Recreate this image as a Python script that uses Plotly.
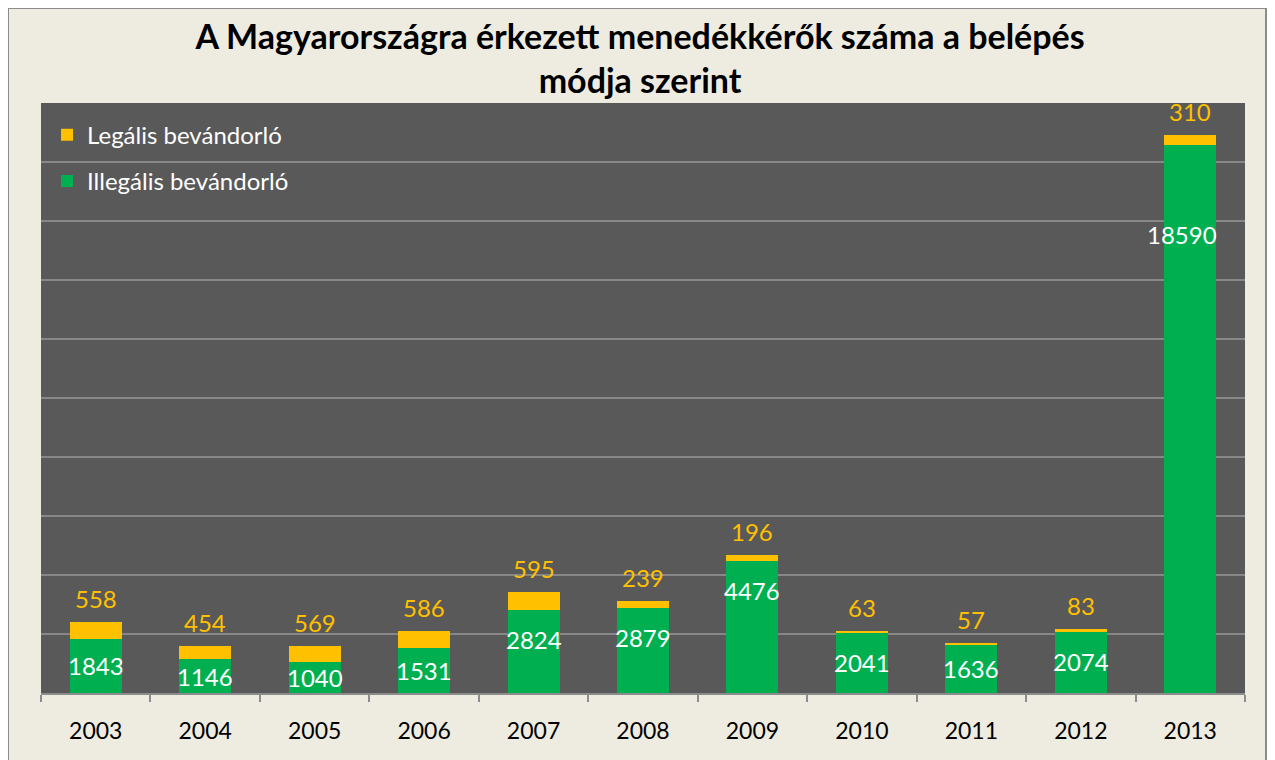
import plotly.graph_objects as go

years = ["2003", "2004", "2005", "2006", "2007", "2008", "2009", "2010", "2011", "2012", "2013"]
illegal = [1843, 1146, 1040, 1531, 2824, 2879, 4476, 2041, 1636, 2074, 18590]
legal = [558, 454, 569, 586, 595, 239, 196, 63, 57, 83, 310]

name_legal = "Legális bevándorló"
name_illegal = "Illegális bevándorló"
title = "A Magyarországra érkezett menedékkérők száma a belépés<br>módja szerint"

GREEN = "#00B050"
YELLOW = "#FFC000"
FONT = "Lato, Calibri, Carlito, sans-serif"

fig = go.Figure()
fig.add_trace(go.Bar(x=years, y=illegal, name=name_illegal, marker_color=GREEN,
                     marker_line_width=0, legendrank=2, legendgroup="g2"))
fig.add_trace(go.Bar(x=years, y=legal, name=name_legal, marker_color=YELLOW,
                     marker_line_width=0, legendrank=1, legendgroup="g1"))

anns = []
for i, (g, l) in enumerate(zip(illegal, legal)):
    ylab = max(g / 2, g - 1000)
    shift = -60 if g > 10000 else 0
    xshift = -8 if g > 10000 else 0
    anns.append(dict(x=i, y=ylab, text=str(g), showarrow=False, yshift=shift, xshift=xshift,
                     font=dict(color="white", size=24, family=FONT)))
    anns.append(dict(x=i, y=g + l, text=str(l), showarrow=False, yanchor="bottom", yshift=7,
                     font=dict(color=YELLOW, size=24, family=FONT)))

# figure sits at (8, 8) in the page because of the default body margin
W, H = 1259, 752
L, R, T, B = 33, 22, 95, 67

shapes = [dict(type="rect", xref="paper", yref="paper",
               x0=-L / (W - L - R), x1=1 + (R - 1) / (W - L - R),
               y0=-B / (H - T - B) - 0.05, y1=1 + T / (H - T - B),
               line=dict(color="#8C8C8C", width=2), layer="above")]

fig.update_layout(
    width=W, height=H, autosize=False,
    margin=dict(l=L, r=R, t=T, b=B),
    barmode="stack", bargap=0.525,
    paper_bgcolor="#EEECE1", plot_bgcolor="#595959",
    font=dict(family=FONT),
    title=dict(text=title, x=0.502, xanchor="center", y=0.946, yanchor="top",
               font=dict(family=FONT, size=34, color="black", weight="bold")),
    legend=dict(x=0.005, y=0.9835, xanchor="left", yanchor="top",
                font=dict(color="white", size=24, family=FONT),
                bgcolor="rgba(0,0,0,0)", traceorder="grouped", tracegroupgap=12),
    xaxis=dict(type="category", range=[-0.5, len(years) - 0.5], showline=True,
               linecolor="#8C8C8C", linewidth=2, ticks="outside",
               tickson="boundaries", ticklen=7, tickcolor="#8C8C8C", tickwidth=2,
               ticklabelstandoff=16,
               tickfont=dict(color="black", size=23, family=FONT), showgrid=False),
    yaxis=dict(range=[0, 20000], dtick=2000, showticklabels=False, gridcolor="#878787",
               gridwidth=2, zeroline=False, showline=False, fixedrange=True),
    annotations=anns,
    shapes=shapes,
)

fig.write_html("out.html")
